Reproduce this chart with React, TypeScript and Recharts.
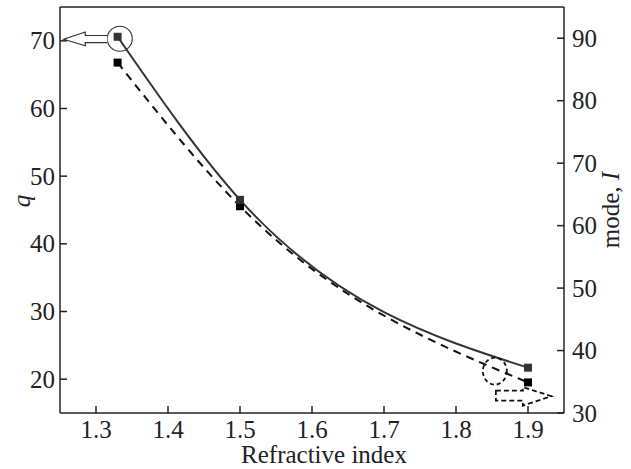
import React from 'react';
import { LineChart, Line, XAxis, YAxis, ReferenceLine, ReferenceDot } from 'recharts';

// values
const refractiveIndex = [1.33, 1.5, 1.9];
const qValues = [70.6, 46.5, 21.7];
const modeValues = [86.1, 63.1, 34.9];

const xTicks = [1.3, 1.4, 1.5, 1.6, 1.7, 1.8, 1.9];
const qTicks = [20, 30, 40, 50, 60, 70];
const modeTicks = [30, 40, 50, 60, 70, 80, 90];

const data = refractiveIndex.map((n, i) => ({ n, q: qValues[i], mode: modeValues[i] }));

const FONT = 'Liberation Serif';
const INK = '#222';
const tickStyle = { fontSize: 25, fontFamily: FONT, fill: INK };
const axisStroke = { stroke: INK, strokeWidth: 1.5 };

const square = (fill: string) => (props: any) => {
  const { cx, cy, index } = props;
  return <rect key={`sq-${index}`} x={cx - 4} y={cy - 4} width={8} height={8} fill={fill} />;
};

// axis tick label, drawn in the serif face
const SerifTick = (props: any) => {
  const { x, y, payload, textAnchor, orientation, tickFormatter } = props;
  const value = tickFormatter ? tickFormatter(payload.value) : payload.value;
  const dy = orientation === 'bottom' ? 17.5 : 8.5;
  return (
    <text x={x} y={y + dy} textAnchor={textAnchor} fontFamily={FONT} fontSize={25} fill={INK}>
      {value}
    </text>
  );
};

// circled point with a hollow arrow towards the q axis
const LeftMarker = (props: any) => {
  const { cx, cy } = props;
  const d = `M ${cx - 12.5} ${cy - 3.3} L ${cx - 34.5} ${cy - 3.3} L ${cx - 34.5} ${cy - 6.8} L ${cx - 56} ${cy + 0.4} L ${cx - 34.5} ${cy + 7} L ${cx - 34.5} ${cy + 3.8} L ${cx - 12.5} ${cy + 3.8}`;
  return (
    <g>
      <circle cx={cx} cy={cy} r={12.5} fill="none" stroke="#333" strokeWidth={1.1} />
      <path d={d} fill="#fff" stroke="#333" strokeWidth={1.2} />
    </g>
  );
};

// dashed circle with a dashed arrow towards the mode axis
const RightMarker = (props: any) => {
  const { cx, cy } = props;
  const d = `M ${cx + 1} ${cy + 19.5} L ${cx + 28} ${cy + 19.5} L ${cx + 28} ${cy + 16} L ${cx + 56.5} ${cy + 25} L ${cx + 28} ${cy + 34.5} L ${cx + 28} ${cy + 29.5} L ${cx + 1} ${cy + 29.5} Z`;
  return (
    <g>
      <ellipse cx={cx} cy={cy} rx={12} ry={13.5} fill="none" stroke="#111" strokeWidth={1.8} strokeDasharray="4 3" />
      <path d={d} fill="#fff" stroke="#111" strokeWidth={1.8} strokeDasharray="5 3" />
    </g>
  );
};

const XTitle = (props: any) => {
  const { x, y, width } = props.viewBox;
  return (
    <text x={x + width / 2 + 12} y={y + 50} textAnchor="middle" fontFamily={FONT} fontSize={25} fill={INK}>
      Refractive index
    </text>
  );
};

const QTitle = (props: any) => {
  const { y, height } = props.viewBox;
  const cx = 21;
  const cy = y + height / 2 - 9;
  return (
    <text x={cx} y={cy} textAnchor="middle" dominantBaseline="central" transform={`rotate(-90 ${cx} ${cy})`}
      fontFamily={FONT} fontSize={25} fill={INK} fontStyle="italic">
      q
    </text>
  );
};

const ModeTitle = (props: any) => {
  const { x, y, height } = props.viewBox;
  const cx = x + 46;
  const cy = y + height / 2;
  return (
    <text x={cx} y={cy} textAnchor="middle" dominantBaseline="central" transform={`rotate(-90 ${cx} ${cy})`}
      fontFamily={FONT} fontSize={25} fill={INK}>
      mode, <tspan fontStyle="italic">I</tspan>
    </text>
  );
};

export default function App() {
  return (
    <div style={{ position: 'absolute', left: 0, top: 0, width: 631, height: 469, background: '#fff', fontFamily: FONT }}>
      <LineChart width={631} height={469} data={data} margin={{ top: 7, right: 0, bottom: 0, left: 0 }}>
        <XAxis
          dataKey="n"
          type="number"
          domain={[1.25, 1.95]}
          ticks={xTicks}
          tickFormatter={(v: number) => v.toFixed(1)}
          height={56}
          tickSize={-7}
          tickMargin={14}
          tick={<SerifTick />}
          axisLine={axisStroke}
          tickLine={axisStroke}
          label={<XTitle />}
          allowDataOverflow
        />
        <YAxis
          yAxisId="q"
          orientation="left"
          domain={[15, 75]}
          ticks={qTicks}
          width={60}
          tickSize={-7}
          tickMargin={12}
          tick={<SerifTick />}
          axisLine={axisStroke}
          tickLine={axisStroke}
          label={<QTitle />}
          allowDataOverflow
        />
        <YAxis
          yAxisId="mode"
          orientation="right"
          domain={[30, 95]}
          ticks={modeTicks}
          width={67}
          tickSize={-7}
          tickMargin={15}
          tick={<SerifTick />}
          axisLine={axisStroke}
          tickLine={axisStroke}
          label={<ModeTitle />}
          allowDataOverflow
        />
        <ReferenceLine yAxisId="q" y={75} stroke={INK} strokeWidth={1.5} />
        <Line
          yAxisId="mode"
          dataKey="mode"
          type="monotone"
          stroke="#111"
          strokeWidth={2}
          strokeDasharray="8 6"
          dot={square('#000')}
          isAnimationActive={false}
        />
        <Line
          yAxisId="q"
          dataKey="q"
          type="monotone"
          stroke="#333"
          strokeWidth={2}
          dot={square('#333')}
          isAnimationActive={false}
        />
        <ReferenceDot yAxisId="q" x={1.333} y={70.3} shape={LeftMarker} />
        <ReferenceDot yAxisId="mode" x={1.854} y={36.7} shape={RightMarker} />
      </LineChart>
    </div>
  );
}
